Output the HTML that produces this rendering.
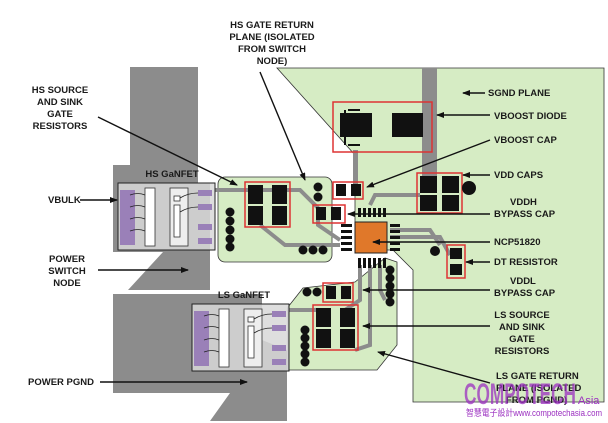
<!DOCTYPE html>
<html><head><meta charset="utf-8"><style>
html,body{margin:0;padding:0;background:#fff}
svg{display:block}
text{font-family:"Liberation Sans",Arial,sans-serif;font-weight:bold;font-size:9.5px;fill:#1a1a1a}
</style></head><body>
<svg width="608" height="423" viewBox="0 0 608 423" xmlns="http://www.w3.org/2000/svg">
<defs><marker id="a" markerWidth="8" markerHeight="6" refX="7" refY="3" orient="auto" markerUnits="userSpaceOnUse"><path d="M0,0L8,3L0,6z" fill="#111"/></marker></defs>
<!-- SGND plane -->
<polygon points="277,68 604,68 604,402 413,402 413,270 393,250 355,250 355,155" fill="#d6ecc4" stroke="#333" stroke-width="0.8"/>
<!-- gray planes -->
<polygon points="130,67 198,67 198,183 210,183 210,290 128,290 163,252 113,252 113,165 130,165" fill="#8c8c8c"/>
<polygon points="113,294 262,294 262,340 287,350 287,421 210,421 230,393 113,393" fill="#8c8c8c"/>
<!-- traces -->
<rect x="422" y="68" width="15" height="110" fill="#8c8c8c"/>
<rect x="353" y="150" width="5" height="35" fill="#8c8c8c"/>
<!-- HS gate return plane -->
<rect x="218" y="177" width="114" height="85" rx="7" fill="#d6ecc4" stroke="#333" stroke-width="0.8"/>
<!-- LS gate return plane -->
<polygon points="288,307 303,288 355,282 385,258 397,262 397,345 377,370 288,370" fill="#d6ecc4" stroke="#333" stroke-width="0.8"/>
<!-- gray signal traces -->
<g stroke="#8c8c8c" stroke-width="4" fill="none">
<path d="M215,190 H300 L318,208 V225 L340,240"/>
<path d="M260,225 L285,245 H340"/>
<path d="M360,265 V300 L345,310"/>
<path d="M370,265 V345 L355,350"/>
<path d="M380,265 V290 L385,300"/>
<path d="M390,230 H430 L440,245"/>
<path d="M390,237 H440 L450,255"/>
<path d="M370,205 L375,195 H420"/>
<path d="M287,310 H320"/>
</g>
<!-- VBOOST diode -->
<path d="M348,110 H360 M348,145 H360 M345,110 V145" stroke="#111" stroke-width="2" fill="none"/>
<rect x="340" y="113" width="32" height="24" fill="#111"/><rect x="392" y="113" width="31" height="24" fill="#111"/>
<rect x="333" y="102" width="99" height="50" fill="none" stroke="#d33" stroke-width="1.5"/>
<!-- caps -->
<rect x="336" y="184" width="10" height="12" fill="#111"/><rect x="351" y="184" width="10" height="12" fill="#111"/>
<rect x="333" y="182" width="30" height="17" fill="none" stroke="#d33" stroke-width="1.5"/>
<rect x="316" y="207" width="10" height="13" fill="#111"/><rect x="331" y="207" width="10" height="13" fill="#111"/>
<rect x="313" y="205" width="32" height="18" fill="none" stroke="#d33" stroke-width="1.5"/>
<rect x="420" y="176" width="17" height="17" fill="#111"/><rect x="442" y="176" width="17" height="17" fill="#111"/>
<rect x="420" y="195" width="17" height="16" fill="#111"/><rect x="442" y="195" width="17" height="16" fill="#111"/>
<rect x="417" y="173" width="45" height="40" fill="none" stroke="#d33" stroke-width="1.5"/>
<circle cx="469" cy="188" r="7" fill="#111"/>
<!-- DT resistor -->
<rect x="450" y="248" width="12" height="11" fill="#111"/><rect x="450" y="264" width="12" height="11" fill="#111"/>
<rect x="447" y="245" width="18" height="33" fill="none" stroke="#d33" stroke-width="1.5"/>
<circle cx="435" cy="251" r="5" fill="#111"/>
<!-- HS resistors -->
<rect x="248" y="185" width="15" height="19" fill="#111"/><rect x="272" y="185" width="15" height="19" fill="#111"/>
<rect x="248" y="206" width="15" height="19" fill="#111"/><rect x="272" y="206" width="15" height="19" fill="#111"/>
<rect x="245" y="182" width="45" height="45" fill="none" stroke="#d33" stroke-width="1.5"/>
<!-- LS cap & resistors -->
<rect x="326" y="286" width="10" height="13" fill="#111"/><rect x="341" y="286" width="10" height="13" fill="#111"/>
<rect x="323" y="283" width="30" height="19" fill="none" stroke="#d33" stroke-width="1.5"/>
<rect x="316" y="308" width="15" height="19" fill="#111"/><rect x="340" y="308" width="15" height="19" fill="#111"/>
<rect x="316" y="329" width="15" height="19" fill="#111"/><rect x="340" y="329" width="15" height="19" fill="#111"/>
<rect x="313" y="305" width="45" height="45" fill="none" stroke="#d33" stroke-width="1.5"/>
<!-- dots -->
<g fill="#111">
<circle cx="230" cy="212" r="4.5"/><circle cx="230" cy="221" r="4.5"/><circle cx="230" cy="230" r="4.5"/><circle cx="230" cy="239" r="4.5"/><circle cx="230" cy="247" r="4.5"/>
<circle cx="303" cy="250" r="4.5"/><circle cx="313" cy="250" r="4.5"/><circle cx="323" cy="250" r="4.5"/>
<circle cx="318" cy="187" r="4.5"/><circle cx="318" cy="197" r="4.5"/>
<circle cx="307" cy="292" r="4.5"/><circle cx="317" cy="292" r="4.5"/>
<circle cx="305" cy="330" r="4.5"/><circle cx="305" cy="338" r="4.5"/><circle cx="305" cy="346" r="4.5"/><circle cx="305" cy="354" r="4.5"/><circle cx="305" cy="362" r="4.5"/>
<circle cx="390" cy="270" r="4.5"/><circle cx="390" cy="278" r="4.5"/><circle cx="390" cy="286" r="4.5"/><circle cx="390" cy="294" r="4.5"/><circle cx="390" cy="302" r="4.5"/>
</g>
<!-- IC -->
<g fill="#111">
<rect x="358" y="208" width="3" height="9"/><rect x="363" y="208" width="3" height="9"/><rect x="368" y="208" width="3" height="9"/><rect x="373" y="208" width="3" height="9"/><rect x="378" y="208" width="3" height="9"/><rect x="383" y="208" width="3" height="9"/>
<rect x="358" y="258" width="3" height="10"/><rect x="363" y="258" width="3" height="10"/><rect x="368" y="258" width="3" height="10"/><rect x="373" y="258" width="3" height="10"/><rect x="378" y="258" width="3" height="10"/><rect x="383" y="258" width="3" height="10"/>
<rect x="341" y="224" width="11" height="3"/><rect x="341" y="230" width="11" height="3"/><rect x="341" y="236" width="11" height="3"/><rect x="341" y="242" width="11" height="3"/><rect x="341" y="248" width="11" height="3"/>
<rect x="390" y="224" width="10" height="3"/><rect x="390" y="230" width="10" height="3"/><rect x="390" y="236" width="10" height="3"/><rect x="390" y="242" width="10" height="3"/><rect x="390" y="248" width="10" height="3"/>
</g>
<rect x="355" y="222" width="32" height="31" fill="#e0782a" stroke="#222" stroke-width="1"/>
<!-- FETs -->
<g id="fet">
<rect x="118" y="183" width="97" height="67" fill="#d8d8d8" fill-opacity="0.85" stroke="#222" stroke-width="1"/>
<rect x="120" y="190" width="15" height="55" fill="#9a80b8"/>
<rect x="145" y="188" width="10" height="58" fill="#fff" stroke="#333" stroke-width="0.8"/>
<rect x="170" y="188" width="18" height="58" fill="#eee" stroke="#333" stroke-width="0.8"/>
<rect x="174" y="196" width="6" height="5" fill="#fff" stroke="#333" stroke-width="0.8"/>
<rect x="174" y="205" width="6" height="32" fill="#fff" stroke="#333" stroke-width="0.8"/>
<rect x="198" y="190" width="14" height="6" fill="#9a80b8"/><rect x="198" y="204" width="14" height="6" fill="#9a80b8"/><rect x="198" y="224" width="14" height="6" fill="#9a80b8"/><rect x="198" y="238" width="14" height="6" fill="#9a80b8"/>
<path d="M130,195 q8,-3 15,0 M130,207 q8,-3 15,0 M130,219 q8,-3 15,0 M130,231 q8,-3 15,0 M180,198 q8,-5 18,-5 M180,212 q8,-5 18,-5" stroke="#222" stroke-width="0.8" fill="none"/>
</g>
<use href="#fet" transform="translate(74,121)"/>
<!-- arrows -->
<g stroke="#111" stroke-width="1.4" marker-end="url(#a)" fill="none">
<line x1="98" y1="117" x2="237" y2="185"/>
<line x1="260" y1="72" x2="305" y2="180"/>
<line x1="80" y1="200" x2="117" y2="200"/>
<line x1="98" y1="270" x2="188" y2="270"/>
<line x1="100" y1="382" x2="247" y2="382"/>
<line x1="485" y1="93" x2="463" y2="93"/>
<line x1="490" y1="115" x2="437" y2="115"/>
<line x1="490" y1="140" x2="367" y2="187"/>
<line x1="490" y1="175" x2="463" y2="175"/>
<line x1="490" y1="214" x2="348" y2="214"/>
<line x1="490" y1="242" x2="373" y2="242"/>
<line x1="490" y1="262" x2="466" y2="262"/>
<line x1="490" y1="290" x2="363" y2="290"/>
<line x1="490" y1="326" x2="363" y2="326"/>
<line x1="490" y1="383" x2="378" y2="352"/>
</g>
<!-- labels -->
<g text-anchor="middle">
<text x="272" y="28">HS GATE RETURN</text><text x="272" y="40">PLANE (ISOLATED</text><text x="272" y="52">FROM SWITCH</text><text x="272" y="64">NODE)</text>
<text x="60" y="93">HS SOURCE</text><text x="60" y="105">AND SINK</text><text x="60" y="117">GATE</text><text x="60" y="129">RESISTORS</text>
<text x="67" y="262">POWER</text><text x="67" y="274">SWITCH</text><text x="67" y="286">NODE</text>
<text x="172" y="177">HS GaNFET</text><text x="244" y="298">LS GaNFET</text>
<text x="522" y="318">LS SOURCE</text><text x="522" y="330">AND SINK</text><text x="522" y="342">GATE</text><text x="522" y="354">RESISTORS</text>
</g>
<text x="48" y="203">VBULK</text>
<text x="28" y="385">POWER PGND</text>
<text x="488" y="96">SGND PLANE</text>
<text x="494" y="119">VBOOST DIODE</text>
<text x="494" y="143">VBOOST CAP</text>
<text x="494" y="178">VDD CAPS</text>
<text x="510" y="205">VDDH</text><text x="494" y="217">BYPASS CAP</text>
<text x="494" y="245">NCP51820</text>
<text x="494" y="265">DT RESISTOR</text>
<text x="510" y="284">VDDL</text><text x="494" y="296">BYPASS CAP</text>
<text x="496" y="379">LS GATE RETURN</text><text x="496" y="391">PLANE (ISOLATED</text><text x="506" y="403">FROM PGND)</text>
<text x="464" y="404" style="font-size:30px;fill:#9b2fc0;fill-opacity:0.75;font-weight:bold" textLength="112" lengthAdjust="spacingAndGlyphs">COMPOTECH</text>
<text x="578" y="404" style="font-size:11px;fill:#9b2fc0;font-weight:normal">Asia</text>
<text x="466" y="416" style="font-size:9px;fill:#9b2fc0;font-weight:normal;font-family:'Liberation Sans','Noto Sans CJK TC',sans-serif" textLength="136" lengthAdjust="spacingAndGlyphs">智慧電子設計www.compotechasia.com</text>
</svg>
</body></html>
